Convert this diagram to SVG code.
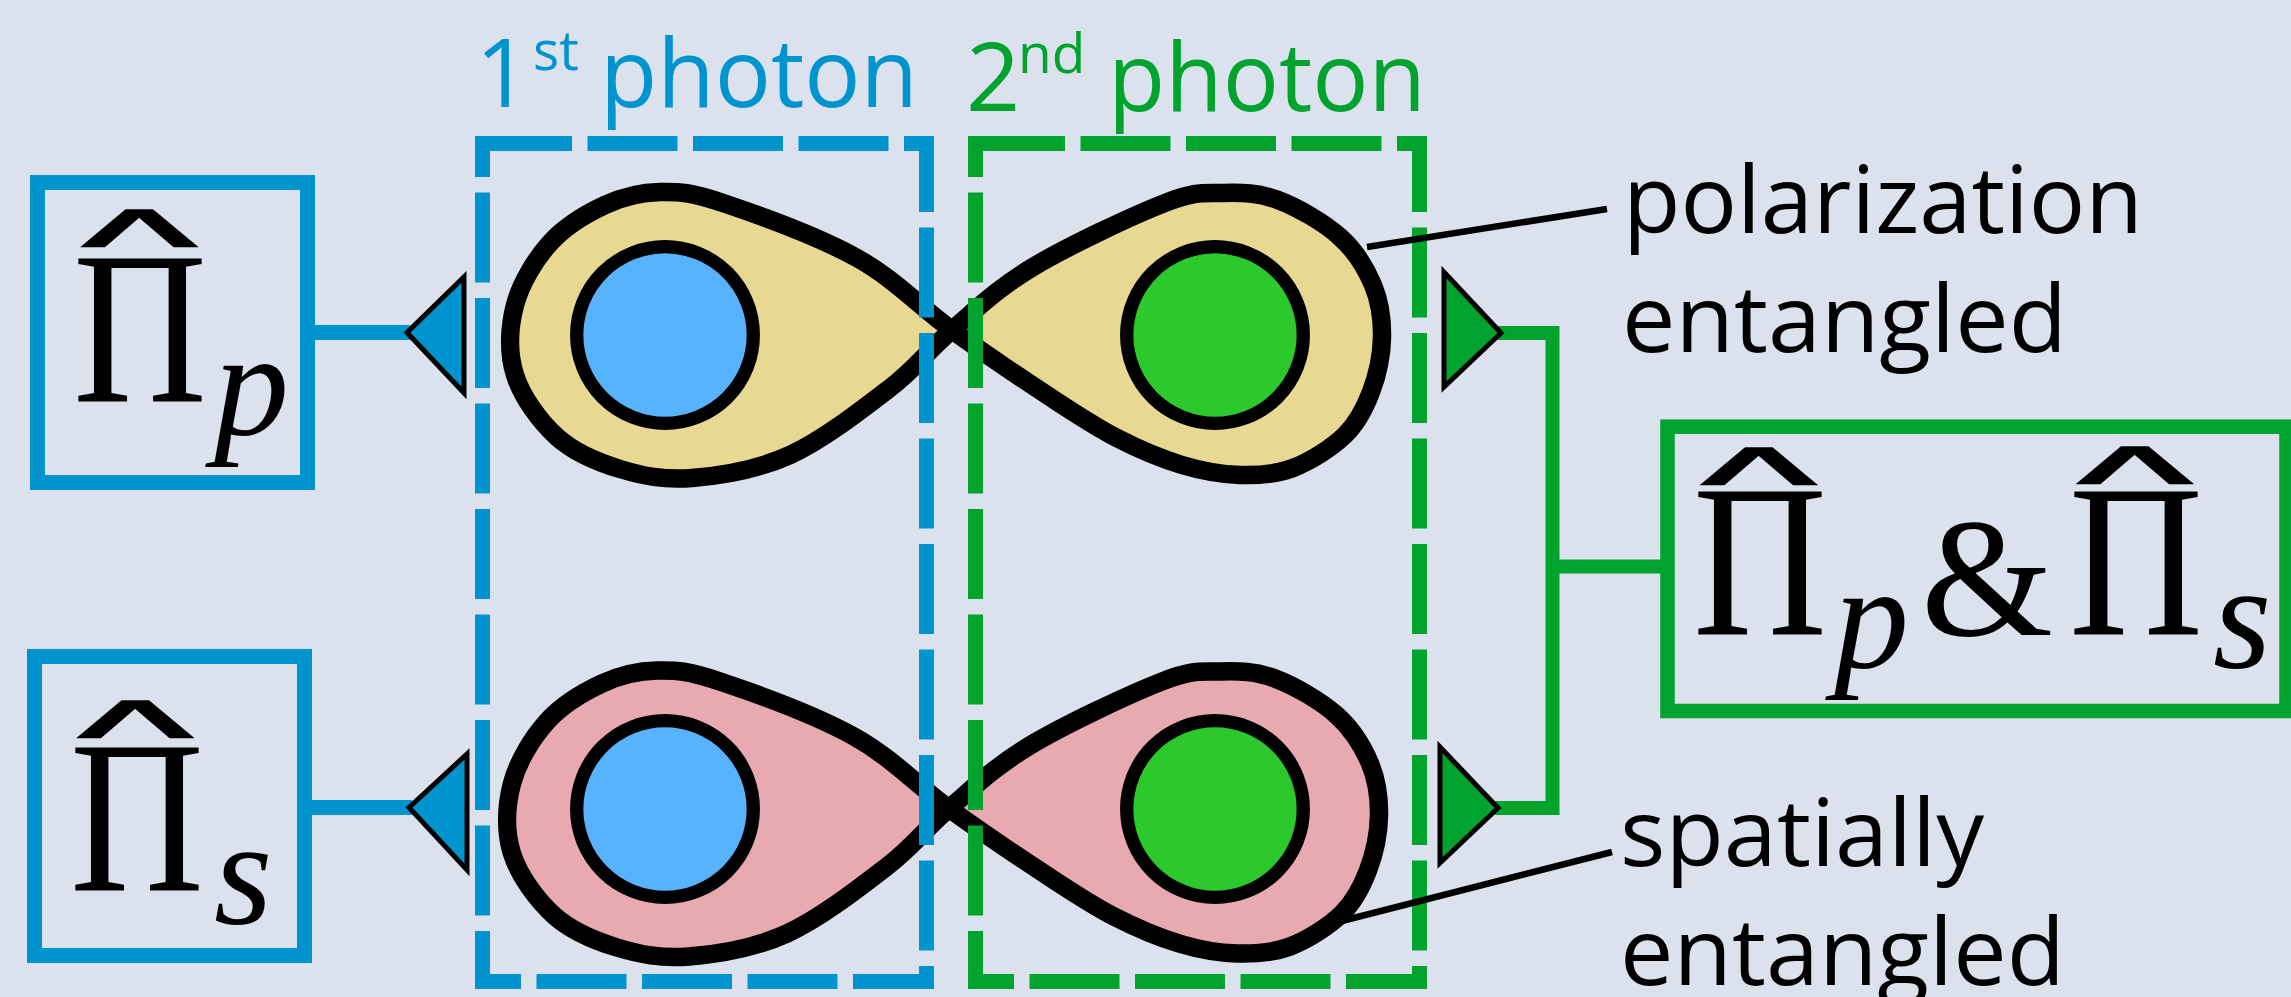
<svg xmlns="http://www.w3.org/2000/svg" width="2291" height="997" viewBox="0 0 2291 997">
<style>
.bg{fill:#dbe2ee}
.box-b{fill:none;stroke:#0094cf;stroke-width:15}
.box-g{fill:none;stroke:#00a32e;stroke-width:14.5}
.db{stroke:#0094cf;stroke-width:15;stroke-dasharray:90 15.5;fill:none}
.dg{stroke:#00a32e;stroke-width:15;stroke-dasharray:90 15.5;fill:none}
.eight{fill:none;stroke:#000;stroke-width:18.5;stroke-linejoin:round}
.yel{fill:#e8d992}
.pink{fill:#e8a9b0}
.cb{fill:#57b3fe;stroke:#000;stroke-width:13.3}
.cg{fill:#2bc92c;stroke:#000;stroke-width:13.3}
.tri-b{fill:#0094cf;stroke:#000;stroke-width:5}
.tri-g{fill:#00a32e;stroke:#000;stroke-width:5}
.wire-b{fill:none;stroke:#0094cf;stroke-width:15}
.wire-g{fill:none;stroke:#00a32e;stroke-width:14;stroke-linejoin:miter}
.lead{stroke:#000;stroke-width:6.5}
.lbl{font-family:"Open Sans","DejaVu Sans",sans-serif;font-size:93px;fill:#000}
.ph{font-family:"Open Sans","DejaVu Sans",sans-serif;font-size:95px}
.sup{font-family:"Open Sans","DejaVu Sans",sans-serif;font-size:55px}
.m{font-family:"Liberation Serif","DejaVu Serif",serif;fill:#000}
.mi{font-family:"Liberation Serif","DejaVu Serif",serif;font-style:italic;fill:#000}
.hat{font-family:"Liberation Mono","DejaVu Sans Mono",monospace;font-size:80px;fill:#000;stroke:#000;stroke-width:2.5}
</style>
<defs>
<path id="eight" d="M952,330 C919.8,306.8 895.2,279.2 857,258 C818.8,236.8 755.8,214 723,203 C690.2,192 679.7,191.7 660,192 C640.3,192.3 623.3,196.5 605,205 C586.7,213.5 565,226.3 550,243 C535,259.7 520.8,283 515,305 C509.2,327 508,353 515,375 C522,397 539.5,421.3 557,437 C574.5,452.7 597.5,462.2 620,469 C642.5,475.8 663.7,480.3 692,478 C720.3,475.7 757,470 790,455 C823,440 863,408.8 890,388 C917,367.2 928.2,350.2 952,330 C975.8,309.8 997.5,288.2 1033,267 C1068.5,245.8 1133.3,215.3 1165,203 C1196.7,190.7 1204.2,193.5 1223,193 C1241.8,192.5 1258.5,192.7 1278,200 C1297.5,207.3 1324.2,222.8 1340,237 C1355.8,251.2 1366,268.3 1373,285 C1380,301.7 1382.3,319.2 1382,337 C1381.7,354.8 1377.2,375.7 1371,392 C1364.8,408.3 1358,422.3 1345,435 C1332,447.7 1310.5,461.3 1293,468 C1275.5,474.7 1258.5,475.5 1240,475 C1221.5,474.5 1202.5,471.2 1182,465 C1161.5,458.8 1139,449.3 1117,438 C1095,426.7 1077.5,415 1050,397 C1022.5,379 984.2,353.2 952,330 Z"/>
<path id="lobeL" d="M952,330 C919.8,306.8 895.2,279.2 857,258 C818.8,236.8 755.8,214 723,203 C690.2,192 679.7,191.7 660,192 C640.3,192.3 623.3,196.5 605,205 C586.7,213.5 565,226.3 550,243 C535,259.7 520.8,283 515,305 C509.2,327 508,353 515,375 C522,397 539.5,421.3 557,437 C574.5,452.7 597.5,462.2 620,469 C642.5,475.8 663.7,480.3 692,478 C720.3,475.7 757,470 790,455 C823,440 863,408.8 890,388 C917,367.2 928.2,350.2 952,330 Z"/>
<path id="lobeR" d="M952,330 C975.8,309.8 997.5,288.2 1033,267 C1068.5,245.8 1133.3,215.3 1165,203 C1196.7,190.7 1204.2,193.5 1223,193 C1241.8,192.5 1258.5,192.7 1278,200 C1297.5,207.3 1324.2,222.8 1340,237 C1355.8,251.2 1366,268.3 1373,285 C1380,301.7 1382.3,319.2 1382,337 C1381.7,354.8 1377.2,375.7 1371,392 C1364.8,408.3 1358,422.3 1345,435 C1332,447.7 1310.5,461.3 1293,468 C1275.5,474.7 1258.5,475.5 1240,475 C1221.5,474.5 1202.5,471.2 1182,465 C1161.5,458.8 1139,449.3 1117,438 C1095,426.7 1077.5,415 1050,397 C1022.5,379 984.2,353.2 952,330 Z"/>
</defs>
<rect class="bg" x="0" y="0" width="2291" height="997"/>

<g id="pair-polarization">
<use href="#lobeL" class="yel"/>
<use href="#lobeR" class="yel"/>
<use href="#eight" class="eight"/>
<circle class="cb" cx="665" cy="335" r="88.3"/>
<circle class="cg" cx="1215" cy="335" r="88.3"/>
</g>
<g id="pair-spatial" transform="translate(-3,478.5)">
<use href="#lobeL" class="pink"/>
<use href="#lobeR" class="pink"/>
<use href="#eight" class="eight"/>
</g>
<g id="photons-spatial">
<circle class="cb" cx="665" cy="809" r="88.3"/>
<circle class="cg" cx="1215" cy="809" r="88.3"/>
</g>

<g id="first-photon">
<line class="db" x1="482" y1="143.5" x2="934" y2="143.5"/>
<line class="db" x1="482.5" y1="136" x2="482.5" y2="989" stroke-dashoffset="49"/>
<line class="db" x1="926.5" y1="136" x2="926.5" y2="989" stroke-dashoffset="14"/>
<line class="db" x1="475" y1="981.5" x2="934" y2="981.5" stroke-dashoffset="44"/>
<text class="ph" x="475.5" y="107" fill="#0094cf">1</text>
<text class="sup" x="533" y="70" fill="#0094cf">st</text>
<text class="ph" x="600" y="107" fill="#0094cf" textLength="318" lengthAdjust="spacingAndGlyphs">photon</text>
</g>
<g id="second-photon">
<line class="dg" x1="975" y1="143.5" x2="1427" y2="143.5"/>
<line class="dg" x1="975.5" y1="136" x2="975.5" y2="989" stroke-dashoffset="49"/>
<line class="dg" x1="1419.5" y1="136" x2="1419.5" y2="989" stroke-dashoffset="14"/>
<line class="dg" x1="968" y1="981.5" x2="1427" y2="981.5" stroke-dashoffset="44"/>
<text class="ph" x="966" y="111" fill="#00a32e">2</text>
<text class="sup" x="1018" y="73" fill="#00a32e">nd</text>
<text class="ph" x="1108" y="111" fill="#00a32e" textLength="318" lengthAdjust="spacingAndGlyphs">photon</text>
</g>

<g id="connectors">
<line class="wire-b" x1="315" y1="332.5" x2="410" y2="332.5"/>
<line class="wire-b" x1="312" y1="807.5" x2="412" y2="807.5"/>
<polyline class="wire-g" points="1498,333 1552.5,333 1552.5,808 1495,808"/>
<line class="wire-g" x1="1552.5" y1="566.5" x2="1662" y2="566.5"/>
<polygon class="tri-b" points="407,332.5 464,277 464,393"/>
<polygon class="tri-b" points="409,807.5 467,754 467,870"/>
<polygon class="tri-g" points="1444,272 1444,387 1501,333"/>
<polygon class="tri-g" points="1440,747 1440,863 1498,808"/>
<line class="lead" x1="1607" y1="209" x2="1367" y2="247"/>
<line class="lead" x1="1612" y1="852" x2="1334" y2="923"/>
</g>

<g id="label-polarization">
<text class="lbl" x="1623" y="233" textLength="520" lengthAdjust="spacingAndGlyphs">polarization</text>
<text class="lbl" x="1622" y="352" textLength="445" lengthAdjust="spacingAndGlyphs">entangled</text>
</g>
<g id="label-spatial">
<text class="lbl" x="1620" y="866" textLength="364" lengthAdjust="spacingAndGlyphs">spatially</text>
<text class="lbl" x="1620" y="985" textLength="445" lengthAdjust="spacingAndGlyphs">entangled</text>
</g>

<g id="proj-p">
<rect class="box-b" x="37.5" y="182.5" width="270" height="300"/>
<text class="hat" x="70.5" y="263" textLength="138" lengthAdjust="spacingAndGlyphs">^</text>
<text class="m" x="73" y="402" font-size="218" textLength="134" lengthAdjust="spacingAndGlyphs">Π</text>
<text class="mi" x="214" y="435" font-size="150">p</text>
</g>
<g id="proj-s">
<rect class="box-b" x="34.5" y="656.5" width="270" height="299"/>
<text class="hat" x="66.5" y="754" textLength="138" lengthAdjust="spacingAndGlyphs">^</text>
<text class="m" x="70" y="890.7" font-size="218" textLength="134" lengthAdjust="spacingAndGlyphs">Π</text>
<text class="mi" x="214" y="924" font-size="150">s</text>
</g>
<g id="proj-ps">
<rect class="box-g" x="1667.5" y="426.7" width="619" height="284.3"/>
<text class="hat" x="1690" y="501" textLength="138" lengthAdjust="spacingAndGlyphs">^</text>
<text class="m" x="1693" y="635" font-size="218" textLength="134" lengthAdjust="spacingAndGlyphs">Π</text>
<text class="mi" x="1834" y="668" font-size="150">p</text>
<text class="m" x="1921" y="635" font-size="170">&amp;</text>
<text class="hat" x="2066" y="500" textLength="138" lengthAdjust="spacingAndGlyphs">^</text>
<text class="m" x="2069" y="635" font-size="218" textLength="134" lengthAdjust="spacingAndGlyphs">Π</text>
<text class="mi" x="2213" y="668" font-size="150">s</text>
</g>
</svg>
